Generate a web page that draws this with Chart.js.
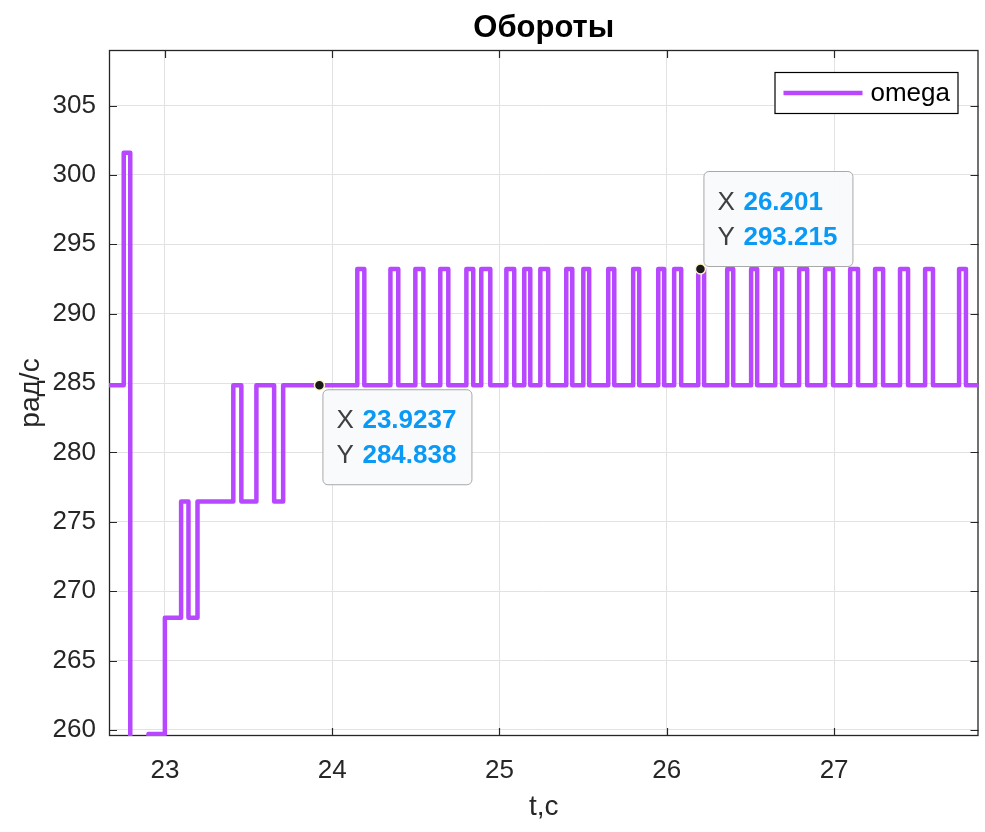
<!DOCTYPE html>
<html>
<head>
<meta charset="utf-8">
<script src="https://cdn.jsdelivr.net/npm/chart.js@4.4.1/dist/chart.umd.min.js"></script>
<style>
  html, body { margin: 0; padding: 0; background: #ffffff; }
  #wrap { width: 985px; height: 832px; }
</style>
</head>
<body>
<div id="wrap"><canvas id="c" width="985" height="832"></canvas></div>
<script>
// ---- texts ----
const chartTitle = 'Обороты';
const xAxisLabel = 't,c';
const yAxisLabel = 'рад/с';
const seriesName = 'omega';

// ---- ticks ----
const xTicks = [23, 24, 25, 26, 27];
const yTicks = [260, 265, 270, 275, 280, 285, 290, 295, 300, 305];

// ---- omega(t): switching instants and the level held after each one ----
const stepTimes = [
  22.600, 22.754, 22.793, 22.902, 23.000, 23.097, 23.141, 23.195,
  23.409, 23.457, 23.547, 23.653, 23.707,
  24.150, 24.192, 24.348, 24.395, 24.497, 24.545, 24.646, 24.694,
  24.802, 24.843, 24.891, 24.945, 25.041, 25.088, 25.148, 25.184,
  25.244, 25.291, 25.399, 25.435, 25.501, 25.536, 25.650, 25.686,
  25.799, 25.835, 25.949, 25.984, 26.044, 26.086, 26.188, 26.223,
  26.361, 26.397, 26.504, 26.540, 26.648, 26.689, 26.791, 26.839,
  26.946, 26.994, 27.096, 27.143, 27.245, 27.293, 27.394, 27.442,
  27.544, 27.591, 27.747, 27.788, 27.900
];
const stepValues = [
  284.838, 301.592, 251.330, 259.707, 268.084, 276.461, 268.084, 276.461,
  284.838, 276.461, 284.838, 276.461, 284.838,
  293.215, 284.838, 293.215, 284.838, 293.215, 284.838, 293.215, 284.838,
  293.215, 284.838, 293.215, 284.838, 293.215, 284.838, 293.215, 284.838,
  293.215, 284.838, 293.215, 284.838, 293.215, 284.838, 293.215, 284.838,
  293.215, 284.838, 293.215, 284.838, 293.215, 284.838, 293.215, 284.838,
  293.215, 284.838, 293.215, 284.838, 293.215, 284.838, 293.215, 284.838,
  293.215, 284.838, 293.215, 284.838, 293.215, 284.838, 293.215, 284.838,
  293.215, 284.838, 293.215, 284.838, 284.838
];

// ---- data tips ----
const tipTimes = [23.9237, 26.201];
const tipValues = [284.838, 293.215];

// ---- styling ----
const FONT = "'Liberation Sans', Arial, Helvetica, sans-serif";
const LINE_COLOR = '#b748ff';
const AXIS_COLOR = '#262626';
const GRID_COLOR = '#e2e2e2';
const TIP_VALUE_COLOR = '#0a99f5';

const omegaPoints = stepTimes.map((t, i) => ({ x: t, y: stepValues[i] }));
const tipPoints = tipTimes.map((t, i) => ({ x: t, y: tipValues[i] }));

function roundRect(ctx, x, y, w, h, r) {
  ctx.beginPath();
  ctx.moveTo(x + r, y);
  ctx.lineTo(x + w - r, y);
  ctx.arcTo(x + w, y, x + w, y + r, r);
  ctx.lineTo(x + w, y + h - r);
  ctx.arcTo(x + w, y + h, x + w - r, y + h, r);
  ctx.lineTo(x + r, y + h);
  ctx.arcTo(x, y + h, x, y + h - r, r);
  ctx.lineTo(x, y + r);
  ctx.arcTo(x, y, x + r, y, r);
  ctx.closePath();
}

// frame, inward ticks, titles, legend and data-tip boxes
const decorations = {
  id: 'decorations',
  beforeDatasetsDraw(chart) {
    const { ctx, chartArea: a, scales } = chart;
    ctx.save();
    ctx.strokeStyle = AXIS_COLOR;
    ctx.lineWidth = 1.3;
    ctx.strokeRect(a.left + 0.5, a.top + 0.5, a.right - a.left - 1, a.bottom - a.top - 1);
    ctx.lineWidth = 1.2;
    const tl = 8;
    ctx.beginPath();
    scales.x.ticks.forEach(tk => {
      const px = Math.round(scales.x.getPixelForValue(tk.value)) + 0.5;
      ctx.moveTo(px, a.bottom); ctx.lineTo(px, a.bottom - tl);
      ctx.moveTo(px, a.top); ctx.lineTo(px, a.top + tl);
    });
    scales.y.ticks.forEach(tk => {
      const py = Math.round(scales.y.getPixelForValue(tk.value)) + 0.5;
      ctx.moveTo(a.left, py); ctx.lineTo(a.left + tl, py);
      ctx.moveTo(a.right, py); ctx.lineTo(a.right - tl, py);
    });
    ctx.stroke();
    ctx.restore();
  },
  afterDatasetsDraw(chart) {
    const { ctx, chartArea: a, scales } = chart;
    const cx = (a.left + a.right) / 2;
    const cy = (a.top + a.bottom) / 2;
    ctx.save();

    // title and axis labels
    ctx.fillStyle = '#000000';
    ctx.textAlign = 'center';
    ctx.textBaseline = 'middle';
    ctx.font = `bold 31px ${FONT}`;
    ctx.fillText(chartTitle, cx, 28);
    ctx.fillStyle = AXIS_COLOR;
    ctx.font = `28px ${FONT}`;
    ctx.fillText(xAxisLabel, cx, 807);
    ctx.save();
    ctx.translate(31, cy);
    ctx.rotate(-Math.PI / 2);
    ctx.fillText(yAxisLabel, 0, 0);
    ctx.restore();

    // legend
    const lw = 183, lh = 41;
    const lx = a.right - 21 - lw, ly = a.top + 22;
    ctx.fillStyle = '#ffffff';
    ctx.fillRect(lx, ly, lw, lh);
    ctx.strokeStyle = '#000000';
    ctx.lineWidth = 1.2;
    ctx.strokeRect(lx + 0.5, ly + 0.5, lw, lh);
    ctx.strokeStyle = LINE_COLOR;
    ctx.lineWidth = 4.5;
    ctx.beginPath();
    ctx.moveTo(lx + 9, ly + lh / 2 + 0.5);
    ctx.lineTo(lx + 88, ly + lh / 2 + 0.5);
    ctx.stroke();
    ctx.fillStyle = '#000000';
    ctx.textAlign = 'left';
    ctx.font = `26px ${FONT}`;
    ctx.fillText(seriesName, lx + 96, ly + lh / 2 + 1);

    // data tips: first one below-right of its point, second one above-right
    tipTimes.forEach((t, i) => {
      const px = scales.x.getPixelForValue(t);
      const py = scales.y.getPixelForValue(tipValues[i]);
      const xs = String(t), ys = String(tipValues[i]);
      ctx.font = `bold 26px ${FONT}`;
      const vw = Math.max(ctx.measureText(xs).width, ctx.measureText(ys).width);
      const bw = Math.round(vw + 55);
      const bh = 95;
      const bx = px + 3;
      const by = i === 0 ? py + 4 : py - 3 - bh;
      ctx.fillStyle = 'rgba(249,250,252,0.97)';
      roundRect(ctx, bx + 0.5, by + 0.5, bw, bh, 5);
      ctx.fill();
      ctx.strokeStyle = '#a8a8a8';
      ctx.lineWidth = 1;
      ctx.stroke();
      const rows = [['X', xs], ['Y', ys]];
      rows.forEach((r, k) => {
        const ty = by + 32 + k * 35;
        ctx.textAlign = 'left';
        ctx.font = `26px ${FONT}`;
        ctx.fillStyle = '#404040';
        ctx.fillText(r[0], bx + 14, ty);
        ctx.font = `bold 26px ${FONT}`;
        ctx.fillStyle = TIP_VALUE_COLOR;
        ctx.fillText(r[1], bx + 40, ty);
      });
    });
    ctx.restore();
  }
};

new Chart(document.getElementById('c'), {
  type: 'line',
  data: {
    datasets: [
      {
        label: 'tips',
        data: tipPoints,
        showLine: false,
        pointRadius: 5,
        pointBackgroundColor: '#1a1a1a',
        pointBorderColor: '#fff6c8',
        pointBorderWidth: 1.5,
        order: 0
      },
      {
        label: seriesName,
        data: omegaPoints,
        stepped: true,
        borderColor: LINE_COLOR,
        borderWidth: 4.5,
        borderJoinStyle: 'round',
        pointRadius: 0,
        fill: false,
        clip: 0,
        order: 1
      }
    ]
  },
  options: {
    responsive: false,
    animation: false,
    devicePixelRatio: 1,
    events: [],
    layout: { padding: { left: 0, right: 5, top: 50, bottom: 0 } },
    plugins: {
      legend: { display: false },
      title: { display: false },
      tooltip: { enabled: false }
    },
    scales: {
      x: {
        type: 'linear',
        min: 22.666,
        max: 27.863,
        afterBuildTicks: s => { s.ticks = xTicks.map(v => ({ value: v })); },
        afterFit: s => { s.height = 96; },
        ticks: {
          color: AXIS_COLOR,
          font: { family: FONT, size: 26 },
          padding: 19,
          maxRotation: 0,
          autoSkip: false
        },
        grid: { color: GRID_COLOR, lineWidth: 1, drawTicks: false },
        border: { display: false }
      },
      y: {
        type: 'linear',
        min: 259.56,
        max: 309.0,
        afterBuildTicks: s => { s.ticks = yTicks.map(v => ({ value: v })); },
        afterFit: s => { s.width = 109; },
        ticks: {
          color: AXIS_COLOR,
          font: { family: FONT, size: 26 },
          padding: 13,
          autoSkip: false
        },
        grid: { color: GRID_COLOR, lineWidth: 1, drawTicks: false },
        border: { display: false }
      }
    }
  },
  plugins: [decorations]
});
</script>
</body>
</html>
